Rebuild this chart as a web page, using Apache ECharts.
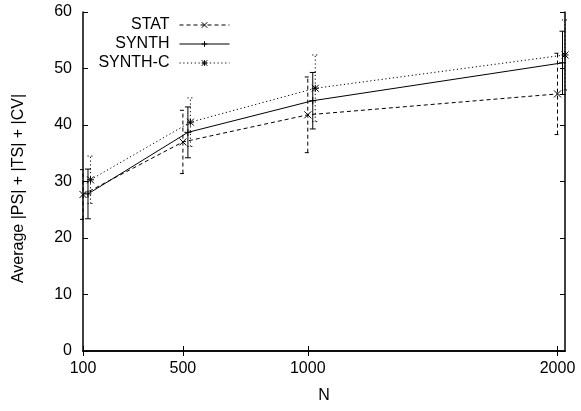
<!DOCTYPE html>
<html>
<head>
<meta charset="utf-8">
<script src="https://cdn.jsdelivr.net/npm/echarts@6/dist/echarts.min.js"></script>
<style>
  html, body { margin: 0; padding: 0; background: #fff; }
  #chart { width: 581px; height: 411px; }
</style>
</head>
<body>
<div id="chart"></div>
<script>
// Problem size N and the tick labels shown on the x axis
const nValues = [100, 500, 1000, 2000];
const nTickLabels = [100, 500, 1000, 2000];

// Average |PS| + |TS| + |CV| per method, with the half-width of each error bar
const statMean   = [27.7, 37.0, 41.8, 45.5];
const statErr    = [4.4, 5.6, 6.7, 7.2];
const synthMean  = [27.8, 38.7, 44.3, 51.0];
const synthErr   = [4.4, 4.5, 5.0, 5.6];
const synthCMean = [30.3, 40.5, 46.5, 52.4];
const synthCErr  = [4.2, 4.3, 5.9, 6.2];

const seriesNames = ['STAT', 'SYNTH', 'SYNTH-C'];

const FONT = '"Liberation Sans", Arial, Helvetica, sans-serif';
const INK = '#000';

// Glyph markers: x, + and *
const SYM_CROSS = 'path://M0,0L10,10M10,0L0,10';
const SYM_PLUS  = 'path://M5,0L5,10M0,5L10,5';
const SYM_STAR  = 'path://M0,0L10,10M10,0L0,10M5,0L5,10M0,5L10,5';

// Each method is drawn slightly to the right of the previous one so bars don't overlap
const methods = [
  { name: seriesNames[0], mean: statMean,   err: statErr,   shift: 0,  dash: [4, 3],     symbol: SYM_CROSS },
  { name: seriesNames[1], mean: synthMean,  err: synthErr,  shift: 20, dash: null,       symbol: SYM_PLUS },
  { name: seriesNames[2], mean: synthCMean, err: synthCErr, shift: 30, dash: [1.2, 2.6], symbol: SYM_STAR }
];

function lineSeries(m) {
  return {
    type: 'line',
    name: m.name,
    data: nValues.map((n, i) => [n + m.shift, m.mean[i]]),
    symbol: m.symbol,
    symbolSize: 7,
    showSymbol: true,
    clip: false,
    z: 3,
    itemStyle: { color: INK, borderColor: INK, borderWidth: 1 },
    lineStyle: { color: INK, width: 1, type: m.dash || 'solid' },
    emphasis: { disabled: true }
  };
}

function errorSeries(m) {
  return {
    type: 'custom',
    name: m.name + ' range',
    data: nValues.map((n, i) => [n + m.shift, m.mean[i] - m.err[i], m.mean[i] + m.err[i]]),
    encode: { x: 0, y: [1, 2] },
    clip: false,
    z: 2,
    silent: true,
    renderItem: function (params, api) {
      const x = api.value(0);
      const lo = api.coord([x, api.value(1)]);
      const hi = api.coord([x, api.value(2)]);
      const half = 3;
      const style = { stroke: INK, lineWidth: 1, fill: null, lineDash: m.dash };
      return {
        type: 'group',
        children: [
          { type: 'line', shape: { x1: lo[0], y1: lo[1], x2: hi[0], y2: hi[1] }, style: style },
          { type: 'line', shape: { x1: lo[0] - half, y1: lo[1], x2: lo[0] + half, y2: lo[1] }, style: style },
          { type: 'line', shape: { x1: hi[0] - half, y1: hi[1], x2: hi[0] + half, y2: hi[1] }, style: style }
        ]
      };
    }
  };
}

const legendRowsTop = [17, 36, 55];
const legends = seriesNames.map((name, i) => ({
  data: [name],
  right: 351,
  top: legendRowsTop[i],
  padding: 0,
  align: 'right',
  orient: 'vertical',
  itemWidth: 50,
  itemHeight: 7,
  selectedMode: false,
  lineStyle: { width: 1 },
  itemStyle: { borderWidth: 1 },
  textStyle: { fontFamily: FONT, fontSize: 16, color: INK, padding: [0, 5, 0, 0] }
}));

const axisLineStyle = { show: true, lineStyle: { color: INK, width: 1.5 } };
const xMin = 100, xMax = 2030;

const option = {
  animation: false,
  backgroundColor: '#fff',
  textStyle: { fontFamily: FONT },
  grid: { left: 83, right: 16, top: 12, bottom: 60, containLabel: false },
  legend: legends,
  xAxis: [
    {
      type: 'value', min: xMin, max: xMax, position: 'bottom',
      name: 'N', nameLocation: 'middle', nameGap: 37,
      nameTextStyle: { fontFamily: FONT, fontSize: 16, color: INK },
      axisLine: axisLineStyle,
      axisTick: { show: true, inside: true, length: 5, customValues: nTickLabels, lineStyle: { color: INK } },
      axisLabel: {
        customValues: nTickLabels, fontFamily: FONT, fontSize: 16, color: INK, margin: 10,
        formatter: v => String(v)
      },
      splitLine: { show: false }
    },
    {
      type: 'value', min: xMin, max: xMax, position: 'top',
      axisLine: axisLineStyle,
      axisTick: { show: true, inside: true, length: 5, customValues: nTickLabels, lineStyle: { color: INK } },
      axisLabel: { show: false },
      splitLine: { show: false }
    }
  ],
  yAxis: [
    {
      type: 'value', min: 0, max: 60, interval: 10, position: 'left',
      name: 'Average |PS| + |TS| + |CV|', nameLocation: 'middle', nameGap: 56,
      nameTextStyle: { fontFamily: FONT, fontSize: 16, color: INK, padding: [0, 14, 0, 0] },
      axisLine: axisLineStyle,
      axisTick: { show: true, inside: true, length: 5, lineStyle: { color: INK } },
      axisLabel: { fontFamily: FONT, fontSize: 16, color: INK, margin: 11 },
      splitLine: { show: false }
    },
    {
      type: 'value', min: 0, max: 60, interval: 10, position: 'right',
      axisLine: axisLineStyle,
      axisTick: { show: true, inside: true, length: 5, lineStyle: { color: INK } },
      axisLabel: { show: false },
      splitLine: { show: false }
    }
  ],
  series: methods.map(errorSeries).concat(methods.map(lineSeries))
};

const chart = echarts.init(document.getElementById('chart'), null, { renderer: 'canvas' });
chart.setOption(option);
</script>
</body>
</html>
